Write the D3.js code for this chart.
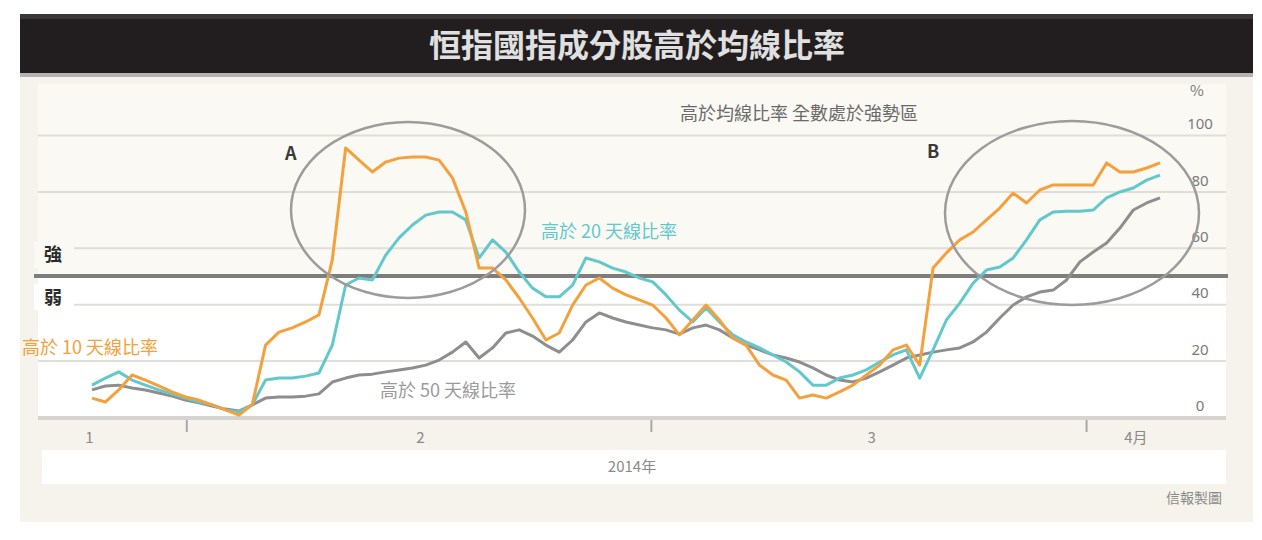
<!DOCTYPE html>
<html><head><meta charset="utf-8">
<script src="https://cdn.jsdelivr.net/npm/d3@7"></script>
<style>
body{margin:0;background:#fff;}
text{font-family:"Noto Sans CJK TC","Noto Sans",sans-serif;}
</style>
</head><body>
<svg id="c" width="1262" height="540"></svg>
<script>
// ---- data (percent of constituents above moving average) ----
const dayIndex = d3.range(81);
const above10 = [6.7,5.3,9.6,14.9,13.1,11.0,8.9,7.1,6.0,4.3,2.5,0.7,4.3,25.5,30.1,31.6,33.7,36.2,55.7,95.4,
  91.1,86.9,90.4,91.8,92.2,92.2,91.1,84.8,72.7,52.8,52.8,48.6,42.2,35.1,27.3,29.8,39.7,46.8,49.3,45.7,
  43.3,41.5,39.7,35.1,29.1,34.4,39.7,34.4,28.0,25.5,18.4,14.9,13.1,6.7,7.8,6.7,8.9,11.3,14.9,18.4,
  23.8,25.5,18.4,52.8,58.2,62.8,65.6,69.9,74.1,79.4,75.9,80.5,82.3,82.3,82.3,82.3,90.1,86.9,86.9,88.3,90.1];
const above20 = [11.3,13.8,16.0,13.1,11.3,9.6,8.2,6.7,5.3,4.3,2.5,1.8,4.3,13.1,13.8,13.8,14.5,15.6,25.5,46.8,
  49.3,48.6,57.4,63.5,68.1,71.6,72.7,72.7,69.9,56.4,62.8,58.5,51.4,45.7,42.6,42.6,46.8,56.4,55.0,52.8,
  51.4,49.3,47.9,43.3,37.9,33.7,38.7,33.7,29.1,26.6,24.5,22.0,19.5,16.0,11.3,11.3,13.8,14.9,16.7,19.5,
  22.0,23.8,13.8,23.8,34.4,40.4,47.5,52.1,53.2,56.4,62.8,69.9,72.7,73.0,73.0,73.4,77.7,79.8,81.2,84.0,85.8];
const above50 = [9.6,11.0,11.3,10.3,9.6,8.5,7.4,6.0,5.0,3.9,2.8,2.1,4.3,6.7,7.1,7.1,7.4,8.2,12.4,13.8,
  14.9,15.2,16.0,16.7,17.4,18.4,20.2,23.0,26.6,20.9,24.5,29.8,30.9,28.7,25.5,23.0,27.3,33.7,36.9,35.1,
  33.7,32.6,31.6,30.9,29.4,31.6,32.6,30.9,28.0,25.5,23.8,22.0,20.9,19.5,17.4,14.9,13.1,12.4,13.8,16.0,
  18.4,20.9,22.0,23.0,23.8,24.5,26.6,30.1,35.1,39.7,42.6,44.3,45.0,48.6,55.0,58.5,61.7,67.0,73.4,75.9,77.7];
const yTicks = [0,20,40,60,80,100];
const xTickLabels = ["1","2","3","4月"];
const xTickLabelPos = [-0.2,24.6,58.4,78.2];
const xTickMarks = [7.1,41.9,74.5];
const seriesNames = ["高於 10 天線比率","高於 20 天線比率","高於 50 天線比率"];
const seriesColors = ["#f4a03c","#62c8cb","#8e8e8e"];

// ---- layout ----
const svg = d3.select("#c");
const x = d3.scaleLinear().domain([0,80]).range([92,1160]);
const y = d3.scaleLinear().domain([0,100]).range([417,135]);
const plotL = 38, plotR = 1226;

// panel backgrounds
svg.append("rect").attr("x",20).attr("y",76).attr("width",1233).attr("height",446).attr("fill","#f5f3eb");
svg.append("rect").attr("x",plotL).attr("y",84).attr("width",plotR-plotL).attr("height",y(50)-84).attr("fill","#faf9f4");
svg.append("rect").attr("x",plotL).attr("y",y(50)).attr("width",plotR-plotL).attr("height",y(0)-y(50)).attr("fill","#ffffff");
svg.append("rect").attr("x",42).attr("y",450).attr("width",1184).attr("height",34).attr("fill","#ffffff");

// title bar
svg.append("rect").attr("x",20).attr("y",14).attr("width",1233).attr("height",60).attr("fill","#221e1f");
svg.append("rect").attr("x",20).attr("y",14).attr("width",1233).attr("height",5).attr("fill","#3b3738");
svg.append("rect").attr("x",20).attr("y",73).attr("width",1233).attr("height",4).attr("fill","#b4b4b4");
svg.append("text").attr("x",637).attr("y",57).attr("text-anchor","middle")
  .attr("font-size",32).attr("font-weight","bold").attr("fill","#e0e0e0")
  .text("恒指國指成分股高於均線比率");

// gridlines
svg.append("g").attr("transform",`translate(${plotL},0)`)
  .call(d3.axisRight(y).tickValues(yTicks).tickSize(plotR-plotL).tickFormat(""))
  .call(g=>g.select(".domain").remove())
  .call(g=>g.selectAll("line").attr("stroke","#e0ded8").attr("stroke-width",2));

// right axis labels
svg.append("g").attr("transform","translate(1200,0)")
  .call(d3.axisRight(y).tickValues(yTicks).tickSize(0))
  .call(g=>g.select(".domain").remove())
  .call(g=>g.selectAll("text").attr("x",0).attr("dy","-0.42em").attr("text-anchor","middle")
     .attr("font-size",15).attr("fill","#7a7a7a").style("font-family","'Noto Sans',sans-serif"));
svg.append("text").attr("x",1197).attr("y",96).attr("text-anchor","middle").attr("font-size",15)
  .attr("fill","#7a7a7a").text("%");

// x axis
svg.append("line").attr("x1",plotL).attr("x2",plotR).attr("y1",y(0)+1).attr("y2",y(0)+1)
  .attr("stroke","#d6d4d0").attr("stroke-width",4);
svg.append("g").selectAll("line").data(xTickMarks).join("line")
  .attr("x1",d=>x(d)).attr("x2",d=>x(d)).attr("y1",y(0)+3).attr("y2",y(0)+15)
  .attr("stroke","#a8a8a8").attr("stroke-width",2);
svg.append("g").selectAll("text").data(xTickLabels).join("text")
  .attr("x",(d,i)=>x(xTickLabelPos[i])).attr("y",443).attr("text-anchor","middle")
  .attr("font-size",15).attr("fill","#8a8a8a").text(d=>d);
svg.append("text").attr("x",632).attr("y",472).attr("text-anchor","middle").attr("font-size",15)
  .attr("fill","#8a8a8a").text("2014年");
svg.append("text").attr("x",1222).attr("y",503).attr("text-anchor","end").attr("font-size",14)
  .attr("fill","#8a8a8a").text("信報製圖");

// strong / weak divider
svg.append("line").attr("x1",34).attr("x2",plotR+2).attr("y1",y(50)).attr("y2",y(50))
  .attr("stroke","#7d7d7d").attr("stroke-width",4);
svg.append("rect").attr("x",34).attr("y",y(50)-34).attr("width",40).attr("height",26).attr("fill","#faf9f4");
svg.append("rect").attr("x",34).attr("y",y(50)+8).attr("width",40).attr("height",26).attr("fill","#ffffff");
svg.append("text").attr("x",44).attr("y",y(50)-15).attr("font-size",18).attr("font-weight","bold")
  .attr("fill","#2b2b2b").text("強");
svg.append("text").attr("x",44).attr("y",y(50)+28).attr("font-size",18).attr("font-weight","bold")
  .attr("fill","#2b2b2b").text("弱");

// lines
const line = d3.line().x((d,i)=>x(dayIndex[i])).y(d=>y(d));
[above50, above20, above10].forEach((s,k)=>{
  const idx = 2-k;
  svg.append("path").datum(s).attr("d",line).attr("fill","none")
    .attr("stroke",seriesColors[idx]).attr("stroke-width",3).attr("stroke-linejoin","round");
});

// ellipses
svg.append("ellipse").attr("cx",408).attr("cy",210).attr("rx",117).attr("ry",88)
  .attr("fill","none").attr("stroke","#9c9c9c").attr("stroke-width",2.5);
svg.append("ellipse").attr("cx",1072).attr("cy",213).attr("rx",127).attr("ry",92)
  .attr("fill","none").attr("stroke","#9c9c9c").attr("stroke-width",2.5);
svg.append("text").attr("x",285).attr("y",160).attr("font-size",18).attr("font-weight","bold")
  .attr("fill","#3a3a3a").text("A");
svg.append("text").attr("x",927).attr("y",158).attr("font-size",18).attr("font-weight","bold")
  .attr("fill","#3a3a3a").text("B");

// annotations
svg.append("text").attr("x",680).attr("y",120).attr("font-size",18).attr("fill","#6a6a6a")
  .text("高於均線比率 全數處於強勢區");
svg.append("text").attr("x",22).attr("y",354).attr("font-size",18).attr("fill",seriesColors[0]).text(seriesNames[0]);
svg.append("text").attr("x",541).attr("y",238).attr("font-size",18).attr("fill",seriesColors[1]).text(seriesNames[1]);
svg.append("text").attr("x",380).attr("y",397).attr("font-size",18).attr("fill","#9a9a9a").text(seriesNames[2]);
</script>
</body></html>
